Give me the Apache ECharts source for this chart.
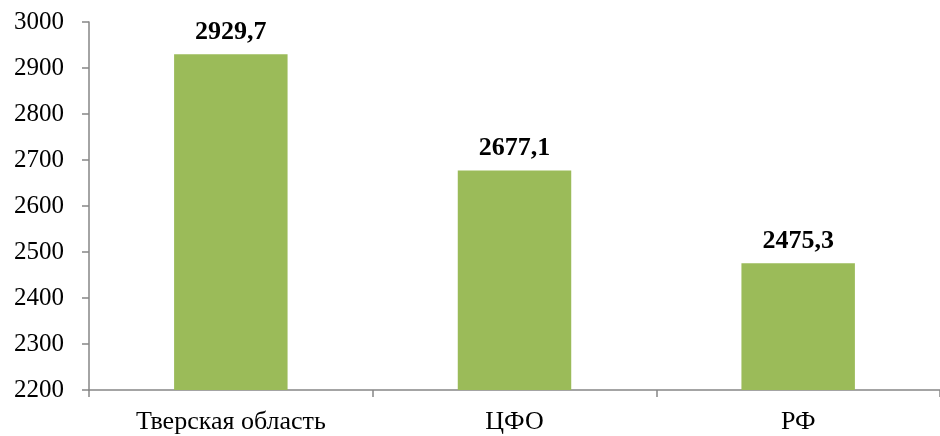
<!DOCTYPE html>
<html><head><meta charset="utf-8">
<script src="https://cdn.jsdelivr.net/npm/echarts@6/dist/echarts.min.js"></script>
<style>html,body{margin:0;padding:0;background:#fff}#c{width:940px;height:436px}</style>
</head><body><div id="c"></div>
<script>
const categories = ['Тверская область', 'ЦФО', 'РФ'];
const values = [2929.7, 2677.1, 2475.3];
const yMin = 2200, yMax = 3000, yStep = 100;
const chart = echarts.init(document.getElementById('c'));
chart.setOption({
  animation: false,
  grid: {left: 89, right: -7, top: 22, bottom: 46},
  xAxis: {
    type: 'category', data: categories,
    axisLine: {lineStyle: {color: '#868686', width: 1.5}},
    axisTick: {show: true, length: 7, lineStyle: {color: '#868686', width: 1.5}},
    axisLabel: {color: '#000', fontFamily: 'Liberation Serif', fontSize: 26, margin: 19}
  },
  yAxis: {
    type: 'value', min: yMin, max: yMax, interval: yStep,
    axisLine: {show: true, lineStyle: {color: '#868686', width: 1.5}},
    axisTick: {show: true, length: 7, lineStyle: {color: '#868686', width: 1.5}},
    splitLine: {show: false},
    axisLabel: {color: '#000', fontFamily: 'Liberation Serif', fontSize: 25, margin: 25,
      formatter: v => String(v)}
  },
  series: [{
    type: 'bar', data: values, barCategoryGap: '60%',
    itemStyle: {color: '#9BBB59'},
    label: {show: true, position: 'top', distance: 9, color: '#000', fontWeight: 'bold',
      fontFamily: 'Liberation Serif', fontSize: 26,
      formatter: p => p.value.toFixed(1).replace('.', ',')}
  }]
});
</script></body></html>
